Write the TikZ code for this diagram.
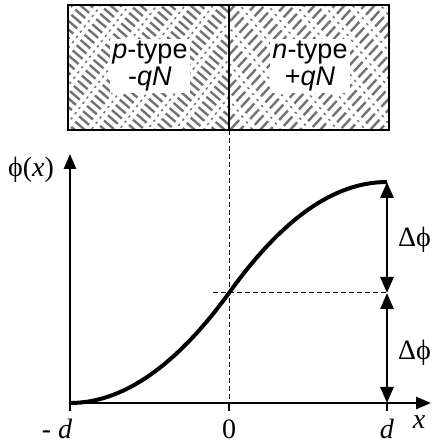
\documentclass[tikz,border=0pt]{standalone}
\usepackage{fontspec}
\setmainfont{Liberation Serif}
\setsansfont{Liberation Sans}
\usepackage{tikz}
\usetikzlibrary{arrows.meta, positioning, calc}
\definecolor{hatchgray}{RGB}{115, 115, 115}

\begin{document}
\begin{tikzpicture}[
    x=1pt, y=1pt,
    hatch/.style={draw=hatchgray, line width=2.4pt,
                  dash pattern=on 13pt off 4pt on 1.5pt off 4pt, dash phase=#1},
    regionlabel/.style={fill=white, inner sep=2pt, align=center,
                        font=\sffamily\fontsize{27}{27}\selectfont},
    axislabel/.style={font=\fontsize{28}{30}\selectfont, inner sep=0pt},
    axis/.style={line width=2.8pt, -{Triangle[length=15pt, width=12pt]}},
    gap/.style={line width=2.8pt, {Triangle[length=16pt, width=13pt]}-{Triangle[length=16pt, width=13pt]}},
    guide/.style={line width=1pt, dash pattern=on 5pt off 3pt}
]
    \useasboundingbox (0,0) rectangle (431,446);

    % Coordinates
    \coordinate (boxsw) at (68,316);
    \coordinate (boxne) at (389,441);
    \coordinate (junctop) at (229,441);
    \coordinate (juncbot) at (229,316);
    \coordinate (origin) at (70,43);
    \coordinate (ytop) at (70,292);
    \coordinate (xend) at (431,43);
    \coordinate (zero) at (229,43);
    \coordinate (dpos) at (387,43);
    \coordinate (mid) at (229,153);
    \coordinate (midright) at (387,153);
    \coordinate (midleft) at (213,153);
    \coordinate (top) at (387,264);

    % Hatched regions
    \begin{scope}
        \clip (68,316) rectangle (229,441);
        \foreach \s [count=\i] in {-80,-70,...,236}
            \draw[hatch=\i*8] (\s,441) -- ++(145,-125);
    \end{scope}
    \begin{scope}
        \clip (229,316) rectangle (389,441);
        \foreach \s [count=\i] in {100,110,...,396}
            \draw[hatch=\i*8] (\s,316) -- ++(115,125);
    \end{scope}
    \draw[line width=2pt] (boxsw) rectangle (boxne);
    \draw[line width=2pt] (junctop) -- (juncbot);

    \node[regionlabel] (ptype) at (150,380) {\textit{p}-type\\-\textit{qN}};
    \node[regionlabel] (ntype) at (310,380) {\textit{n}-type\\+\textit{qN}};

    % Guides
    \draw[guide] (juncbot) -- (zero);
    \draw[guide] (midleft) -- (midright);

    % Axes
    \draw[axis] (origin) -- (ytop);
    \draw[axis] (origin) -- (xend);
    \foreach \t in {origin, zero, dpos}
        \draw[line width=1.6pt] (\t) -- ++(0,-8);

    % Potential
    \draw[line width=4pt] (origin) .. controls (123,43) and (176,80) .. (mid)
        .. controls (282,227) and (334,264) .. (top);

    % Arrows
    \draw[gap] (top) -- (midright);
    \draw[gap] (midright) -- (dpos);

    % Labels
    \node[axislabel] (philabel) at (31,276) {ϕ(\textit{x})};
    \node[axislabel, anchor=west] (dphitop) at (398,206) {Δϕ};
    \node[axislabel, anchor=west] (dphibot) at (398,93) {Δϕ};
    \node[axislabel] (xlabel) at (419,24) {\textit{x}};
    \node[axislabel] (mdlabel) at (57,17) {- \textit{d}};
    \node[axislabel] (zerolabel) at (229,17) {0};
    \node[axislabel] (dlabel) at (387,17) {\textit{d}};
\end{tikzpicture}
\end{document}
